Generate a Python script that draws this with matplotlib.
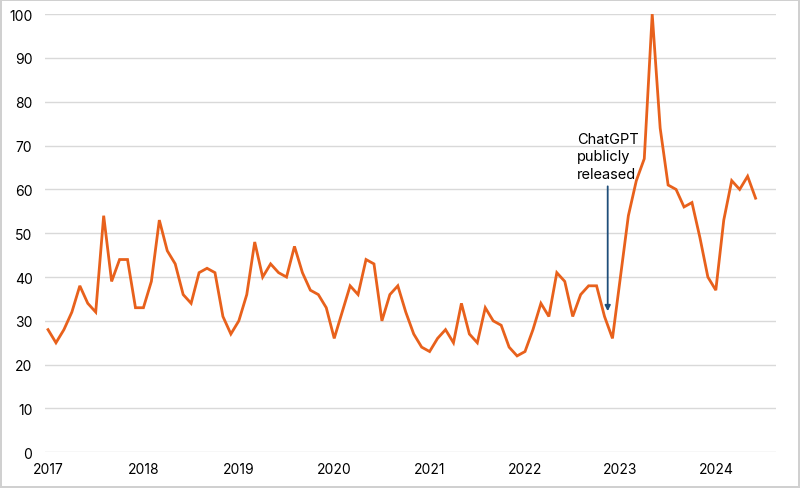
import matplotlib
matplotlib.use("Agg")
import matplotlib.pyplot as plt

years = ["2017", "2018", "2019", "2020", "2021", "2022", "2023", "2024"]
values = [
    28, 25, 28, 32, 38, 34, 32, 54, 39, 44, 44, 33,   # 2017
    33, 39, 53, 46, 43, 36, 34, 41, 42, 41, 31, 27,   # 2018
    30, 36, 48, 40, 43, 41, 40, 47, 41, 37, 36, 33,   # 2019
    26, 32, 38, 36, 44, 43, 30, 36, 38, 32, 27, 24,   # 2020
    23, 26, 28, 25, 34, 27, 25, 33, 30, 29, 24, 22,   # 2021
    23, 28, 34, 31, 41, 39, 31, 36, 38, 38, 31, 26,   # 2022
    40, 54, 62, 67, 100, 74, 61, 60, 56, 57, 49, 40,  # 2023
    37, 53, 62, 60, 63, 58,                           # 2024
]
annotation_text = "ChatGPT\npublicly\nreleased"

plt.rcParams['font.family'] = ['Inter', 'DejaVu Sans']

fig = plt.figure(figsize=(8.0, 4.89), dpi=100)
fig.patch.set_facecolor("white")
fig.patch.set_edgecolor("#D0D0D0")
fig.patch.set_linewidth(1.5)
ax = fig.add_axes([0.05625, 0.073, 0.97 - 0.05625, 0.969 - 0.073])

x = list(range(len(values)))
ax.plot(x, values, color="#E8611C", linewidth=2.0, solid_joinstyle="miter", zorder=3)

ax.set_ylim(0, 100)
ax.set_xlim(-0.38, 91.57)
ax.set_yticks(range(0, 101, 10))
ax.set_xticks([12 * i for i in range(len(years))])
ax.set_xticklabels(years)
ax.grid(axis="y", color="#D9D9D9", linewidth=1.0, zorder=0)
ax.grid(axis="x", visible=False)
for s in ax.spines.values():
    s.set_visible(False)
ax.tick_params(axis="both", length=0, labelsize=10, colors="black")
ax.tick_params(axis="y", pad=9)
ax.tick_params(axis="x", pad=7)

ax.annotate("", xy=(70.4, 32.2), xytext=(70.4, 60.7),
            arrowprops=dict(arrowstyle="-|>", color="#1F4E79", lw=1.3,
                            mutation_scale=8, shrinkA=0, shrinkB=0), zorder=4)
ax.text(66.5, 62, annotation_text, ha="left", va="bottom",
        fontsize=10.5, linespacing=1.3, color="black", zorder=5)

fig.savefig("out.png", dpi=100, facecolor=fig.get_facecolor(), edgecolor=fig.get_edgecolor())
